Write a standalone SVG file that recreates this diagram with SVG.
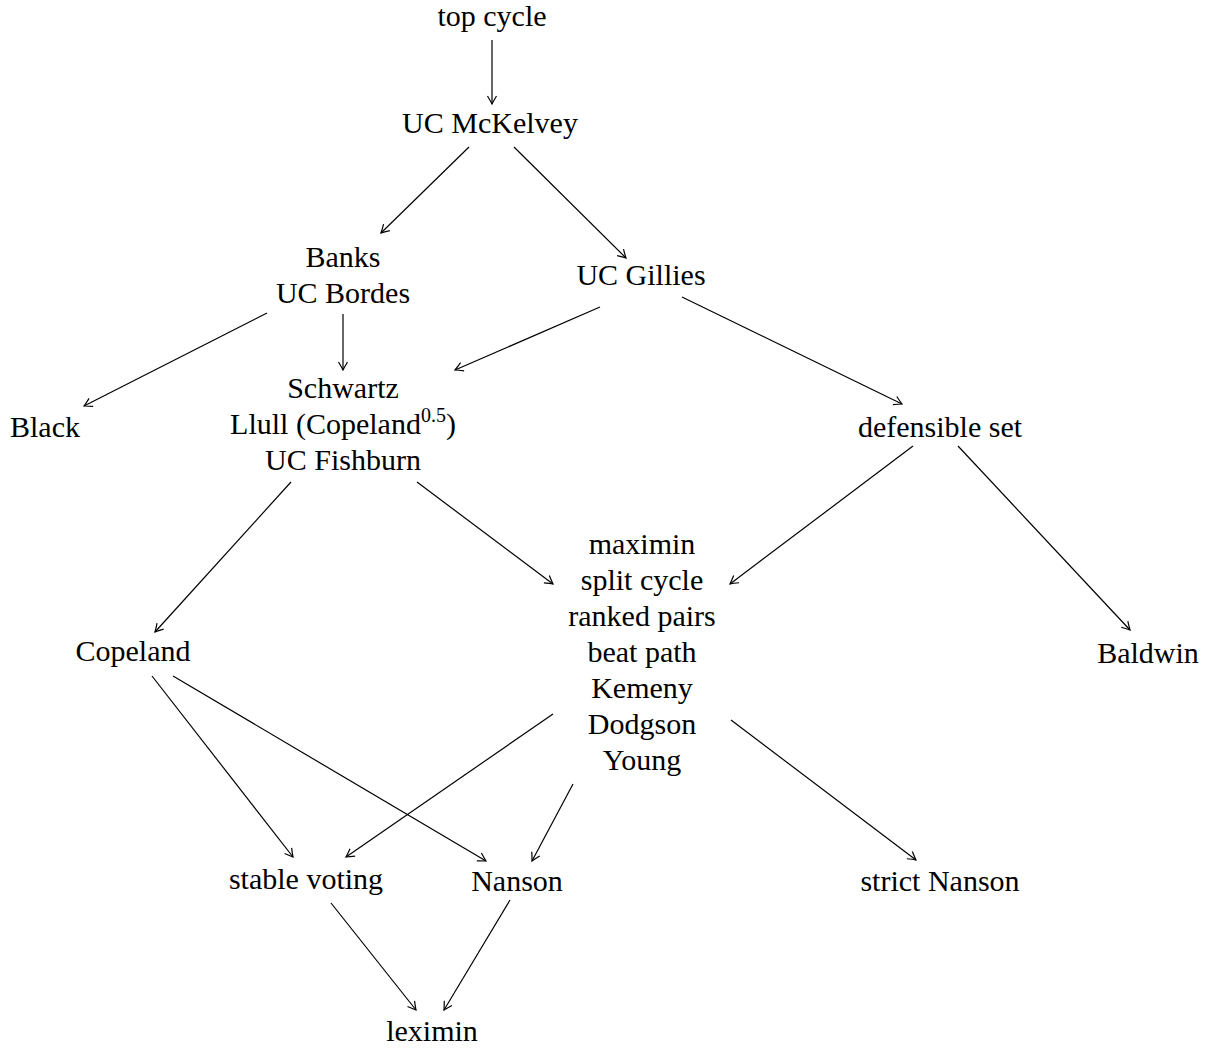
<svg xmlns="http://www.w3.org/2000/svg" width="1212" height="1048" viewBox="0 0 1212 1048">
<style>
text{font-family:"Liberation Serif","DejaVu Serif",serif;font-size:30px;fill:#000;text-anchor:middle}
.sup{font-size:20px}
#edges line{stroke:#000;stroke-width:1.2;fill:none;marker-end:url(#arr)}
</style>
<defs>
<marker id="arr" viewBox="-10 -6 12 12" refX="0" refY="0" markerWidth="12" markerHeight="12" markerUnits="userSpaceOnUse" orient="auto">
<path d="M-8,-4.5 Q-3,-1.5 0,0 Q-3,1.5 -8,4.5" fill="none" stroke="#000" stroke-width="1.2"/>
</marker>
</defs>
<rect width="1212" height="1048" fill="#fff"/>
<g id="edges">
<line x1="492" y1="40" x2="492" y2="104"/>
<line x1="469" y1="147" x2="381" y2="233"/>
<line x1="514" y1="147" x2="626" y2="258"/>
<line x1="267" y1="313" x2="84" y2="406"/>
<line x1="343" y1="314" x2="343" y2="370"/>
<line x1="600" y1="307" x2="455" y2="370"/>
<line x1="682" y1="297" x2="902" y2="404"/>
<line x1="291" y1="482" x2="155" y2="632"/>
<line x1="417" y1="482" x2="553" y2="584"/>
<line x1="913" y1="446" x2="730" y2="584"/>
<line x1="958" y1="446" x2="1130" y2="630"/>
<line x1="152" y1="676" x2="293" y2="857"/>
<line x1="173" y1="676" x2="486" y2="861"/>
<line x1="553" y1="714" x2="346" y2="857"/>
<line x1="573" y1="784" x2="532" y2="861"/>
<line x1="731" y1="720" x2="916" y2="860"/>
<line x1="331" y1="903" x2="416" y2="1010"/>
<line x1="510" y1="900" x2="444" y2="1010"/>
</g>
<g id="topcycle"><text x="492" y="26">top cycle</text></g>
<g id="mckelvey"><text x="490" y="133">UC McKelvey</text></g>
<g id="banks"><text x="343" y="267">Banks</text><text x="343" y="303">UC Bordes</text></g>
<g id="gillies"><text x="641" y="285">UC Gillies</text></g>
<g id="black"><text x="45" y="437">Black</text></g>
<g id="schwartz"><text x="343" y="398">Schwartz</text><text x="343" y="434">Llull (Copeland<tspan class="sup" dy="-12">0.5</tspan><tspan dy="12">)</tspan></text><text x="343" y="470">UC Fishburn</text></g>
<g id="defensible"><text x="940" y="437">defensible set</text></g>
<g id="maximin">
<text x="642" y="554">maximin</text>
<text x="642" y="590">split cycle</text>
<text x="642" y="626">ranked pairs</text>
<text x="642" y="662">beat path</text>
<text x="642" y="698">Kemeny</text>
<text x="642" y="734">Dodgson</text>
<text x="642" y="770">Young</text>
</g>
<g id="copeland"><text x="133" y="661">Copeland</text></g>
<g id="baldwin"><text x="1148" y="663">Baldwin</text></g>
<g id="stable"><text x="306" y="889">stable voting</text></g>
<g id="nanson"><text x="517" y="891">Nanson</text></g>
<g id="strictnanson"><text x="940" y="891">strict Nanson</text></g>
<g id="leximin"><text x="432" y="1041">leximin</text></g>
</svg>
